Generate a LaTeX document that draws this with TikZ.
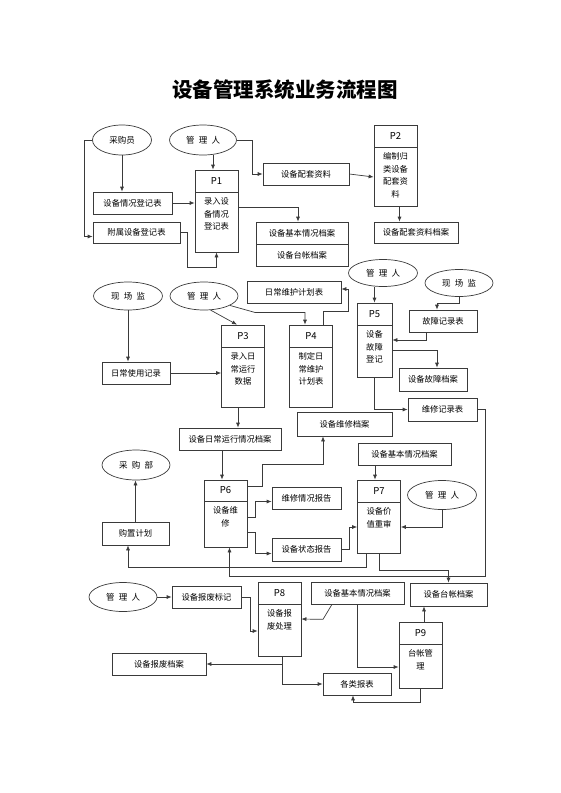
\documentclass[tikz,border=0pt]{standalone}
\usepackage{fontspec}
\setmainfont{Noto Sans CJK SC}
\usetikzlibrary{shapes.geometric,arrows.meta,positioning}
\definecolor{linegray}{HTML}{3A3A3A}

\begin{document}
\begin{tikzpicture}[x=1pt, y=-1pt, line width=0.7pt,
    box/.style={draw=linegray, minimum height=22, inner sep=1pt, font=\fontsize{8.3}{10}\selectfont},
    actor/.style={draw=linegray, ellipse, minimum width=68, minimum height=29, inner sep=0pt, font=\fontsize{8.5}{10}\selectfont},
    proc/.style={draw=linegray, minimum width=43},
    phead/.style={draw=linegray, minimum width=43, minimum height=22, anchor=north, font=\fontsize{9.5}{11}\selectfont},
    ptext/.style={anchor=north, align=center, inner sep=0pt, yshift=-5pt, font=\fontsize{8.3}{12.5}\selectfont},
    arr/.style={draw=linegray, -{Latex[length=5pt,width=4pt]}}]

    \useasboundingbox (0,0) rectangle (560,793);
    \node[font=\bfseries\fontsize{20.5}{24}\selectfont] (title) at (285,90) {设备管理系统业务流程图};

    % Part 1: registration
        %% actors
        \node[actor, minimum width=59, minimum height=30] (buyer) at (122,140) {采购员};
        \node[actor, minimum width=67, minimum height=30] (mgrA) at (203,140) {管\enspace 理\enspace 人};

        %% P1
        \node[proc, minimum height=82] (p1) at (216.5,211) {};
        \node[phead] (p1h) at (p1.north) {P1};
        \node[ptext] (p1t) at (p1h.south) {录入设\\备情况\\登记表};

        %% P2
        \node[proc, minimum height=81] (p2) at (395.5,165.5) {};
        \node[phead] (p2h) at (p2.north) {P2};
        \node[ptext] (p2t) at (p2h.south) {编制归\\类设备\\配套资\\料};

        %% forms and files
        \node[box, minimum width=79] (regform) at (132.5,203) {设备情况登记表};
        \node[box, minimum width=87, minimum height=21] (attform) at (136.5,232.5) {附属设备登记表};
        \node[box, minimum width=86] (kitdata) at (306,174) {设备配套资料};
        \node[box, minimum width=84, minimum height=21] (kitfile) at (416,232.5) {设备配套资料档案};
        \node[box, minimum width=92] (basefileA) at (302,233) {设备基本情况档案};
        \node[box, minimum width=92] (ledgerA) at (302,255) {设备台帐档案};

        %% links
        \draw[arr] (buyer.south) -- (buyer.south |- regform.north);
        \draw[arr] (buyer.west) -- ++(-8,0) |- ([yshift=-4pt]attform.west);
        \draw[arr] (regform.east) -- (regform.east -| p1.west);
        \draw[arr] (attform.east) -- ++(7,0) |- ([yshift=-15pt]p1.south) -- (p1.south);
        \draw[arr] ([xshift=-3.5pt]p1.north |- mgrA.south) -- ([xshift=-3.5pt]p1.north);
        \draw[arr] (mgrA.east) -- ++(15,0) |- (kitdata.west);
        \draw[arr] (kitdata.east) -- ([yshift=-11.5pt]p2.west);
        \draw[arr] ([xshift=4pt]p2.south) -- ([xshift=4pt]p2.south |- kitfile.north);
        \draw[arr] ([yshift=4pt]p1.east) -| ([xshift=-4pt]basefileA.north);

    % Part 2: daily running and faults
        %% actors
        \node[actor, minimum width=69, minimum height=28] (fieldA) at (128,296) {现\enspace 场\enspace 监};
        \node[actor, minimum height=28] (mgrB) at (204,296) {管\enspace 理\enspace 人};
        \node[actor, minimum width=69, minimum height=27] (mgrC) at (383,273) {管\enspace 理\enspace 人};
        \node[actor, minimum height=27] (fieldB) at (459,283) {现\enspace 场\enspace 监};

        %% P3
        \node[proc, minimum height=82] (p3) at (243,366) {};
        \node[phead] (p3h) at (p3.north) {P3};
        \node[ptext] (p3t) at (p3h.south) {录入日\\常运行\\数据};

        %% P4
        \node[proc, minimum height=82] (p4) at (311,366) {};
        \node[phead] (p4h) at (p4.north) {P4};
        \node[ptext] (p4t) at (p4h.south) {制定日\\常维护\\计划表};

        %% P5
        \node[proc, minimum width=35, minimum height=74] (p5) at (374.5,340) {};
        \node[phead, minimum width=35] (p5h) at (p5.north) {P5};
        \node[ptext] (p5t) at (p5h.south) {设备\\故障\\登记};

        %% forms and files
        \node[box, minimum width=94] (plan) at (294,292) {日常维护计划表};
        \node[box, minimum width=68] (usage) at (136,373) {日常使用记录};
        \node[box, minimum width=102] (dayfile) at (230,439) {设备日常运行情况档案};
        \node[box, minimum width=68] (faultform) at (443,321) {故障记录表};
        \node[box, minimum width=68, minimum height=23] (faultfile) at (433,379.5) {设备故障档案};
        \node[box, minimum width=69, minimum height=23] (repairform) at (442.5,409.5) {维修记录表};

        %% links
        \draw[arr] (fieldA.south) -- (fieldA.south |- usage.north);
        \draw[arr] (usage.east) -- (usage.east -| p3.west);
        \draw[arr] (mgrB.-65) -- ([xshift=-6pt]p3.north);
        \draw[arr] (mgrB.-20) -- ++(25,7) -| ([xshift=-6pt]p4.north);
        \draw[arr] ([xshift=12pt]p4.north) -- ++(0,-13) -| ([xshift=7pt,yshift=3pt]plan.east) -- ([yshift=3pt]plan.east);
        \draw[arr] ([xshift=-5pt]p3.south) -- ([xshift=-5pt]p3.south |- dayfile.north);
        \draw[arr] (p5.north |- mgrC.south) -- (p5.north);
        \draw[arr] (fieldB.south) -- ++(0,6) -| ([xshift=-6pt]faultform.north);
        \draw[arr] ([xshift=-17pt]faultform.south) |- (p5.east);
        \draw[arr] ([yshift=-10pt]p5.east) -| ([xshift=4pt]faultfile.north);
        \draw[arr] (p5.south) |- (repairform.west);

    % Part 3: repair and review
        %% actors
        \node[actor, minimum height=30] (buydept) at (136,465) {采\enspace 购\enspace 部};
        \node[actor, minimum width=69] (mgrD) at (442,495) {管\enspace 理\enspace 人};

        %% P6
        \node[proc, minimum height=67] (p6) at (225.5,513.5) {};
        \node[phead, minimum height=21] (p6h) at (p6.north) {P6};
        \node[ptext] (p6t) at (p6h.south) {设备维\\修};

        %% P7
        \node[proc, minimum height=73] (p7) at (379,516.5) {};
        \node[phead] (p7h) at (p7.north) {P7};
        \node[ptext] (p7t) at (p7h.south) {设备价\\值重审};

        %% forms and files
        \node[box, minimum width=67, minimum height=23] (buyplan) at (135.5,533.5) {购置计划};
        \node[box, minimum width=95, minimum height=24] (repairfile) at (344.5,424) {设备维修档案};
        \node[box, minimum width=69] (repreport) at (306.5,498) {维修情况报告};
        \node[box, minimum width=69, minimum height=23] (statreport) at (306.5,549.5) {设备状态报告};
        \node[box, minimum width=93] (basefileB) at (404.5,454) {设备基本情况档案};

        %% links
        \draw[arr] (buyplan.north) -- (buyplan.north |- buydept.south);
        \draw[arr] ([xshift=-3.5pt]p6.north |- dayfile.south) -- ([xshift=-3.5pt]p6.north);
        \draw[arr] ([yshift=-7pt]p6.north east) -- ++(15,0) -- ++(0,-22) -| ([xshift=-21.5pt]repairfile.south);
        \draw[arr] ([yshift=-3.5pt]p6.east) -- ++(8,0) |- ([yshift=-3.5pt]repreport.west);
        \draw[arr] ([yshift=-18.5pt]p6.east) -- ++(8,0) |- ([yshift=-4pt]statreport.west);
        \draw[arr] (statreport.east) -- ++(8,0) |- ([yshift=-10.5pt]p7.west);
        \draw[arr] ([xshift=-4pt]p7.north |- basefileB.south) -- ([xshift=-4pt]p7.north);
        \draw[arr] (mgrD.south) |- ([yshift=-10.5pt]p7.east);
        \draw[arr] (repairform.east) -- ++(8,0) |- ([xshift=4pt,yshift=-29pt]p6.south) -- ([xshift=4pt]p6.south);
        \draw[arr] ([xshift=-13pt]p7.south) -- ++(0,14) -| ([xshift=-7.5pt]buyplan.south);

    % Part 4: scrapping and ledger
        %% actors
        \node[actor] (mgrE) at (123,597) {管\enspace 理\enspace 人};

        %% P8
        \node[proc, minimum height=74] (p8) at (279.5,619) {};
        \node[phead] (p8h) at (p8.north) {P8};
        \node[ptext] (p8t) at (p8h.south) {设备报\\废处理};

        %% P9
        \node[proc, minimum height=66] (p9) at (420.5,655) {};
        \node[phead] (p9h) at (p9.north) {P9};
        \node[ptext] (p9t) at (p9h.south) {台帐管\\理};

        %% forms and files
        \node[box, minimum width=69] (scrapmark) at (206.5,597) {设备报废标记};
        \node[box, minimum width=94] (scrapfile) at (159,664) {设备报废档案};
        \node[box, minimum width=93] (basefileC) at (357.5,593) {设备基本情况档案};
        \node[box, minimum width=77, minimum height=23] (ledgerB) at (448.5,594.5) {设备台帐档案};
        \node[box, minimum width=68] (reports) at (357,684) {各类报表};

        %% links
        \draw[arr] (p7.south) -- ++(0,17) -| (ledgerB.north);
        \draw[arr] (mgrE.east) -- (scrapmark.west);
        \draw[arr] (scrapmark.east) -- ++(9,0) |- ([yshift=-12pt]p8.west);
        \draw[arr] ([xshift=2.5pt]p8.south) |- (scrapfile.east);
        \draw[arr] ([xshift=2.5pt]p8.south) |- (reports.west);
        \draw[arr] ([xshift=-25.5pt]basefileC.south) -- ++(-9,15) -- (p8.east);
        \draw[arr] (basefileC.south) |- ([yshift=-12pt]p9.west);
        \draw[arr] ([xshift=3.5pt]p9.north) -- ([xshift=3.5pt]p9.north |- ledgerB.south);
        \draw[arr] (p9.south) -- ++(0,14) -| ([xshift=-4pt]reports.south);

\end{tikzpicture}
\end{document}
